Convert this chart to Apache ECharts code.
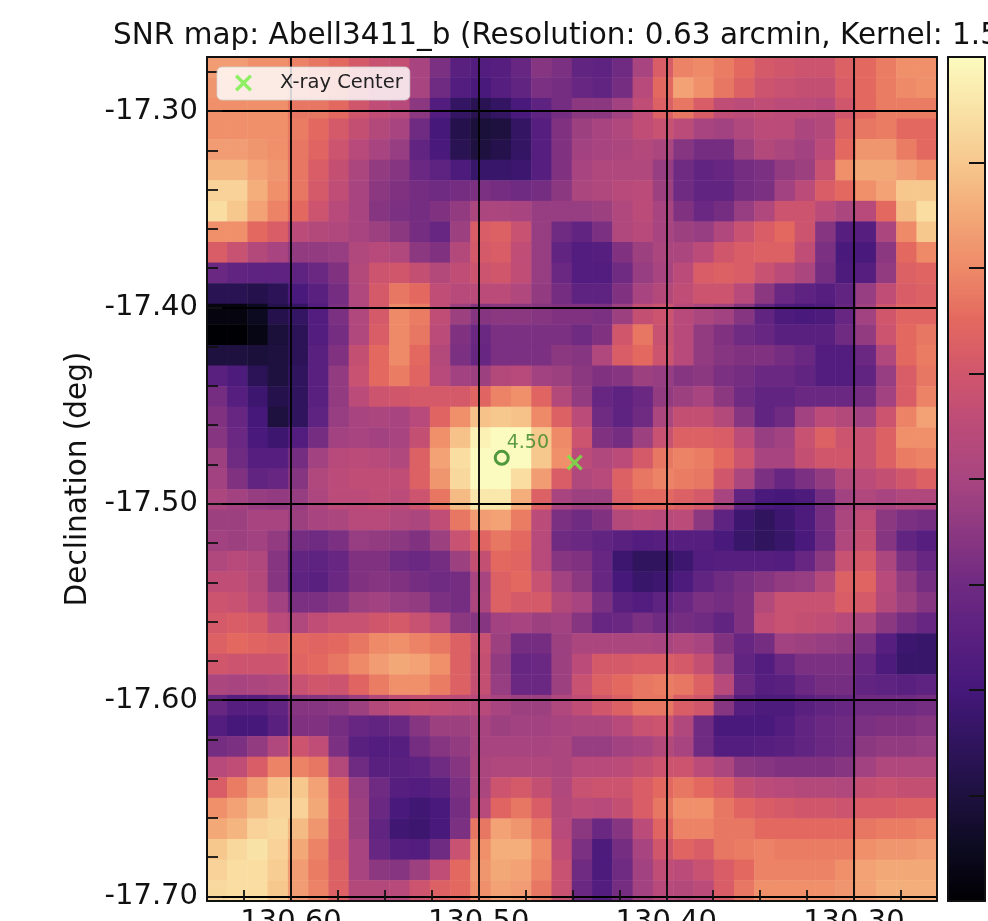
<!DOCTYPE html>
<html><head><meta charset="utf-8">
<style>html,body{margin:0;padding:0;background:#fff;overflow:hidden}#c{width:988px;height:921px}</style>
<script src="https://cdn.jsdelivr.net/npm/echarts@6/dist/echarts.min.js"></script>
</head><body><div id="c"></div>
<script>
const titleText = 'SNR map: Abell3411_b (Resolution: 0.63 arcmin, Kernel: 1.5 arcmin)';
const yName = 'Declination (deg)';
const legendName = 'X-ray Center';
const xRange = [130.2557, 130.6448];
const yRange = [-17.7023, -17.2725];
const xMajor = [130.3, 130.4, 130.5, 130.6];
const xMinor = [130.275, 130.325, 130.35, 130.375, 130.425, 130.45, 130.475, 130.525, 130.55, 130.575, 130.625];
const yMajor = [-17.7, -17.6, -17.5, -17.4, -17.3];
const yMinor = [-17.68, -17.66, -17.64, -17.62, -17.58, -17.56, -17.54, -17.52, -17.48, -17.46, -17.44, -17.42, -17.38, -17.36, -17.34, -17.32, -17.28];
const barTicks = [-3, -2, -1, 0, 1, 2, 3];
const colorStops = ['#000004','#0c0a20','#1e1140','#30145e','#45187a','#5a2080','#6f2a82','#8c3881','#a84580','#bb4b78','#d0566c','#e3685f','#ee8a68','#f3a878','#f7c88e','#f9e2a6','#fcfbbf'];
const xrayCenter = [130.4488, -17.4790];
const peak = [130.4877, -17.4766];
const peakLabel = '4.50';
// SNR per cell, top row first, left column first
const snr = [
[2.3,2.3,2.1,2.1,1.9,1.7,1.5,1.1,.8,.7,0,-.8,-1.5,-1.7,-1.6,-1.2,-.6,-.8,-1.3,-1.4,-1.0,0,1.2,1.9,2.0,1.8,1.5,1.1,1.0,.9,.9,1.3,1.5,1.8,2.1,2.1],
[2.2,2.2,2.1,2.1,1.8,1.7,1.5,1.1,.7,.6,0,-1.0,-1.7,-1.9,-1.6,-1.3,-.8,-.9,-1.2,-1.3,-.9,.4,1.5,2.4,2.1,1.7,1.3,.9,.8,.7,.7,1.2,1.5,1.8,2.0,2.1],
[2.1,2.1,2.1,2.1,1.7,1.7,1.5,1.0,.6,.4,-.5,-1.7,-2.4,-2.7,-2.4,-1.9,-1.4,-.9,-.5,-.5,-.1,.6,1.3,1.7,1.2,.6,.5,.6,.5,.5,.4,1.0,1.5,1.8,1.8,1.8],
[2.1,2.1,2.1,2.1,1.8,1.5,1.1,.7,.3,0,-1.0,-2.0,-2.8,-3.1,-3.0,-2.4,-1.6,-.7,-.2,0,.2,.6,.8,.5,0,-.1,.2,.5,.5,.1,.3,1.3,1.7,1.8,1.5,1.5],
[2.3,2.3,2.2,2.1,1.7,1.4,.9,.4,0,-.3,-1.3,-1.9,-2.7,-3.0,-2.8,-2.4,-1.6,-.7,-.1,0,.1,.3,.1,-.6,-.9,-.9,-.2,.3,.1,-.1,.5,1.5,2.2,2.2,1.8,1.5],
[2.7,2.7,2.4,2.2,1.7,1.2,.7,.1,-.4,-.6,-1.1,-1.4,-1.8,-2.3,-2.3,-2.2,-1.6,-.7,0,.2,.2,.2,-.3,-1.0,-1.3,-1.2,-.9,-.8,-.4,-.2,.8,2.1,2.5,2.5,2.3,2.1],
[3.2,3.2,2.6,2.1,1.7,1.1,.6,0,-.5,-.7,-.9,-1.0,-.9,-.8,-.9,-1.0,-.9,-.5,.1,.2,.4,.5,-.2,-1.0,-1.3,-1.3,-.9,-.8,-.1,.5,1.2,1.5,2.1,2.4,3.0,3.0],
[3.4,3.0,2.4,1.9,1.5,.9,.4,0,-.6,-.8,-.9,-.7,-.4,.1,.1,0,-.3,-.3,-.3,-.2,.2,.5,0,-.7,-1.1,-.9,-.3,.2,.9,.9,.5,.1,.4,1.5,2.8,3.4],
[2.1,2.1,1.5,1.2,.5,.3,.2,0,-.2,-.5,-.9,-1.2,-.2,1.2,1.3,.8,-.3,-1.0,-1.3,-.8,.2,.4,0,-.2,-.3,.2,.8,1.2,1.5,.9,-.6,-1.6,-1.6,.1,2.0,3.0],
[1.2,.8,.3,0,-.4,-.4,-.3,.2,.4,.2,-.5,-.7,.3,1.1,1.2,.6,-.3,-1.3,-1.7,-1.6,-.7,-.2,.1,.1,.5,1.0,1.2,1.3,1.3,.6,-.8,-1.9,-1.9,-.5,1.5,2.0],
[-1.1,-1.3,-1.4,-1.4,-1.4,-1.1,-.7,.3,.9,1.0,.7,.3,.6,.9,1.0,.6,-.3,-1.1,-1.7,-1.7,-1.0,-.3,0,.5,1.2,1.3,1.2,.8,.5,.1,-.9,-1.8,-1.6,-.4,1.3,1.4],
[-2.7,-2.7,-2.8,-2.6,-1.9,-1.5,-.9,.2,1.1,1.7,1.5,.6,.4,.5,.5,.2,-.4,-.9,-1.4,-1.4,-.7,0,.3,.6,.9,.9,.4,-.5,-1.1,-1.4,-1.6,-1.3,-.3,.6,1.2,1.3],
[-3.8,-3.8,-3.5,-2.8,-2.4,-1.7,-.8,.2,1.1,2.0,1.8,.6,-.2,-.6,-.5,-.5,-.6,-.7,-.7,-.8,-.2,.7,.9,.4,.1,-.1,-.6,-1.3,-1.8,-1.9,-1.8,-1.2,-.1,1.0,1.4,1.4],
[-4,-4,-3.7,-3.1,-2.6,-1.7,-.9,.2,1.2,2.0,1.7,.5,-.7,-1.1,-.8,-.8,-.8,-.8,-1.0,-.7,1.0,1.7,.8,.4,-.4,-.7,-1.0,-1.2,-1.5,-1.5,-1.5,-1.0,-.4,.9,1.5,1.7],
[-3.0,-3.0,-3.1,-3.0,-2.6,-1.5,-.7,.7,1.5,2.0,1.5,.3,-.8,-1.2,-.8,-.8,-.8,-.5,-.6,.2,1.2,1.5,.9,.4,-.4,-.6,-.7,-.7,-.9,-1.1,-1.7,-1.7,-1.1,.2,1.5,1.8],
[-1.5,-1.8,-2.6,-3.0,-2.5,-1.5,-.4,.8,1.5,1.8,1.4,.4,-.1,-.2,.3,.4,-.1,-.2,-.5,-.7,-.6,-.2,-.3,-.6,-.5,-.8,-.9,-1.1,-1.1,-1.3,-1.7,-1.7,-1.3,-.3,1.2,1.7],
[-.9,-1.6,-2.2,-2.8,-2.5,-1.5,-.4,.5,.9,1.0,1.1,1.1,1.1,1.4,1.9,2.1,1.4,.3,-.4,-1.2,-1.4,-1.1,-.4,-.2,0,-.5,-1.0,-1.3,-1.3,-1.1,-1.1,-1.1,-.9,-.1,1.2,1.9],
[-.7,-1.2,-2.0,-3.0,-2.5,-1.4,-.3,0,.1,0,.4,1.4,2.1,2.9,3.0,2.9,2.0,1.3,.5,-1.0,-1.4,-1.0,.1,.7,.7,.3,-.6,-1.3,-1.0,-.1,.5,.3,-.1,.9,1.9,2.4],
[-.6,-1.1,-1.9,-2.2,-1.7,-.9,-.1,0,-.1,0,.7,2.1,2.9,3.8,4,4,3,2.0,.9,-.7,-.9,-.2,.8,1.3,1.3,1.2,.5,-.3,-.1,.8,1.3,.9,.8,1.3,2.1,2.1],
[-.2,-1.0,-1.6,-1.6,-.9,-.1,.4,.5,.4,.2,1.3,2.4,3.4,4,4,4,3,2.1,.5,.2,.5,1.1,1.7,1.9,1.8,1.5,.9,0,0,.7,1.0,1.0,.8,1.3,1.8,1.9],
[-.1,-.7,-1.3,-1.2,-.6,.2,.5,.6,.6,.6,1.3,2.2,3.3,4,4,3.4,2.3,1.2,.2,.4,1.3,1.7,1.9,1.8,1.7,1.0,.1,-.8,-1.2,-.8,-.4,.3,.5,.7,1.0,1.3],
[.1,-.1,-.3,-.4,-.3,.1,.5,.5,.6,.5,.9,1.7,2.8,3.6,3.6,2.6,1.3,0,-.2,-.2,1.2,1.5,1.5,1.3,1.1,0,-1.3,-1.9,-2.0,-1.8,-.9,-.1,.2,0,.2,.2],
[-.2,-.2,0,0,-.2,0,.1,.4,.4,.2,.1,.6,1.7,2.3,2.4,1.8,.5,-.8,-1.0,-.7,.3,.5,.4,.5,-.5,-1.4,-2.2,-2.5,-2.2,-1.8,-.9,.1,.6,-.5,-.8,-.9],
[-.1,-.2,-.1,-.4,-.9,-1.0,-.8,-.3,-.4,-.5,-.7,-.2,.8,1.4,1.7,1.5,.4,-1.0,-1.1,-1.3,-1.5,-1.7,-1.6,-1.6,-1.6,-1.9,-2.3,-2.5,-2.3,-1.9,-1.0,.2,.7,-.6,-1.3,-1.6],
[.2,.4,.2,-.6,-1.3,-1.4,-1.2,-.7,-.7,-1.0,-1.1,-.9,-.2,.7,1.5,1.4,.4,-.6,-.7,-1.2,-2.2,-2.5,-2.5,-2.2,-1.7,-1.6,-1.6,-1.6,-1.7,-1.2,-.5,.8,1.1,.1,-.8,-1.2],
[.6,.6,.3,-.6,-1.4,-1.5,-1.1,-.7,-.6,-.7,-.9,-1.0,-.9,0,1.3,1.5,.8,-.1,-.5,-1.2,-2.0,-2.3,-2.2,-1.8,-1.3,-1.0,-.8,-.6,-.4,-.3,.3,1.3,1.4,.4,-.4,-.9],
[.9,.8,.5,-.1,-.8,-.8,-.6,-.2,-.1,-.3,-.4,-.8,-.9,.1,1.3,1.1,1.1,.3,0,-.8,-1.5,-1.7,-1.4,-1.1,-.8,-.9,-.7,.3,.8,.8,.8,1.2,1.1,.3,-.2,-.6],
[1.1,1.2,1.1,.5,.2,.6,.8,.8,1.0,1.1,.8,.4,-.5,-.6,-.1,0,-.2,-.1,-.6,-1.2,-1.1,-.8,-1.0,-.9,-1.0,-1.3,-.7,.6,.8,.7,.6,.4,.1,-.5,-.9,-1.2],
[1.3,1.5,1.4,1.3,1.5,1.4,1.5,1.7,2.0,2.1,1.9,1.7,1.3,.8,-.2,-.9,-.9,-.2,.1,.1,.1,.1,0,.2,0,-.7,-1.2,-.9,-.1,-.2,-.3,-.4,-.8,-1.6,-2.2,-2.3],
[1.0,.9,.9,.9,1.4,1.5,1.7,2.0,2.3,2.5,2.4,2.1,1.3,.7,-.4,-1.2,-1.1,-.2,.5,1.1,1.1,1.2,1.2,1.1,.7,-.3,-1.3,-1.7,-1.1,-.8,-.8,-.8,-1.2,-1.8,-2.3,-2.3],
[.1,0,.1,.2,.8,1.0,.9,1.4,1.8,2.1,2.1,1.8,1.3,.7,-.3,-1.1,-1.1,-.2,.8,1.3,1.5,1.7,1.8,1.7,1.3,.4,-1.1,-1.6,-1.5,-1.1,-.9,-.9,-1.3,-1.4,-1.5,-1.4],
[-1.2,-1.6,-1.6,-1.3,-.6,-.6,-.5,-.2,.3,.6,.7,.6,.5,.4,0,-.2,-.2,.2,.6,1.0,1.3,1.7,1.7,1.2,1.0,-.6,-1.6,-1.8,-1.8,-1.5,-1.3,-1.2,-1.0,-1.0,-1.0,-.9],
[-1.7,-2.0,-2.0,-1.5,-.7,-.7,-.9,-1.2,-1.3,-1.1,-.6,-.2,-.2,0,-.2,-.1,-.1,0,.1,.1,.4,.8,.9,.2,-1.0,-1.9,-1.9,-1.9,-1.7,-1.3,-1.1,-1.0,-.8,-.7,-.7,-.6],
[-.9,-.8,-.4,.2,.9,.6,-.8,-1.5,-1.7,-1.6,-.9,-.6,-.4,0,0,0,0,.1,-.3,-.3,-.1,0,.3,0,-1.0,-1.7,-1.7,-1.6,-1.5,-1.3,-1.1,-1.0,-.5,-.4,-.4,-.3],
[.4,.6,1.2,1.9,1.9,1.7,.3,-1.0,-1.5,-1.5,-1.4,-1.0,-.6,.1,.2,.2,.2,.1,.4,.4,.5,.7,.9,.9,.5,.1,-.5,-.6,-.7,-.7,-.7,-.6,-.1,.2,.2,.2],
[1.2,1.8,2.3,2.9,3.0,2.4,1.3,-.3,-1.0,-1.6,-1.7,-1.5,-.8,.1,.9,1.1,.7,.2,.8,.9,.9,1.2,1.5,1.7,1.5,1.2,.7,.5,.4,.3,.3,.2,.7,.8,.7,.7],
[2.1,2.4,2.8,3.2,3.2,2.5,1.4,-.2,-1.1,-1.9,-2.1,-1.9,-.9,.4,1.4,1.7,1.2,.3,.5,.4,.7,1.2,1.7,2.1,2.1,1.7,1.4,1.2,1.1,1.0,1.0,.9,1.2,1.2,1.3,1.3],
[2.5,2.7,3.2,3.3,2.8,2.2,1.3,-.2,-1.3,-2.1,-2.2,-1.9,-.8,1.7,2.4,2.2,1.7,.4,-.5,-1.1,-.6,.5,1.4,1.9,1.9,1.7,1.7,1.5,1.5,1.5,1.5,1.5,1.7,1.8,1.8,1.9],
[3.0,3.3,3.5,3.2,2.5,1.9,1.2,0,-1.2,-1.6,-1.7,-1.0,.8,2.1,2.6,2.6,2.0,.6,-.8,-1.8,-.9,0,1.0,1.4,1.2,1.7,1.8,1.9,1.8,1.8,1.8,1.8,2.1,2.2,2.2,2.3],
[3.2,3.4,3.4,3.1,2.3,1.8,1.3,0,-.5,-.6,-.2,.6,1.5,2.2,2.5,2.4,1.9,.8,-1.0,-1.8,-1.0,-.1,.6,.5,.8,1.2,1.5,1.9,1.9,1.9,1.9,2.1,2.4,2.5,2.5,2.5],
[3.3,3.4,3.4,3.0,2.3,1.9,1.3,.3,.3,.4,.9,1.3,1.5,2.1,2.4,2.3,1.7,.8,-1.1,-1.7,-.9,-.1,.4,.3,.5,1.2,1.7,2.1,2.1,2.1,2.1,2.2,2.4,2.6,2.6,2.6]
];

const FONT = '"DejaVu Sans"';
const INK = '#111';
const XMARK = 'path://M1.4 0L5 3.6L8.6 0L10 1.4L6.4 5L10 8.6L8.6 10L5 6.4L1.4 10L0 8.6L3.6 5L0 1.4Z';
const cols = snr[0].map((_, i) => i);
const rows = snr.map((_, j) => j);
const cells = [];
snr.forEach((r, j) => r.forEach((v, i) => cells.push([i, j, v])));
const plot = {left: 207, top: 57, width: 730, height: 844, outerBoundsMode: 'none'};
const bar = {left: 948, top: 57, width: 37, height: 844, outerBoundsMode: 'none'};
const frameLine = {show: true, onZero: false, lineStyle: {color: INK, width: 2}};
const noLine = {show: false};
const off = {show: false};
const gridLine = {show: true, lineStyle: {color: '#000', width: 1.8}};
const xCommon = {type: 'value', gridIndex: 1, inverse: true, min: xRange[0], max: xRange[1], z: 5};
const yCommon = {type: 'value', gridIndex: 1, min: yRange[0], max: yRange[1], z: 5};
const labelStyle = {show: true, fontFamily: FONT, fontSize: 29, color: INK, formatter: v => v.toFixed(2), hideOverlap: false};

const chart = echarts.init(document.getElementById('c'), null, {renderer: 'canvas'});
chart.setOption({
  animation: false,
  backgroundColor: '#fff',
  title: {text: titleText, left: 113, top: 21, padding: 0,
    textStyle: {fontFamily: FONT, fontWeight: 'normal', fontSize: 29.5, color: INK}},
  grid: [plot, plot, bar],
  xAxis: [
    {type: 'category', gridIndex: 0, data: cols, show: false},
    Object.assign({}, xCommon, {position: 'bottom', axisLine: frameLine,
      axisTick: {show: true, inside: true, length: 15, customValues: xMajor, lineStyle: {color: INK, width: 2}},
      splitLine: gridLine,
      axisLabel: Object.assign({}, labelStyle, {margin: 7, customValues: xMajor})}),
    Object.assign({}, xCommon, {position: 'bottom', axisLine: noLine,
      axisTick: {show: true, inside: true, length: 11, customValues: xMinor, lineStyle: {color: INK, width: 1.8}},
      axisLabel: off, splitLine: off}),
    Object.assign({}, xCommon, {position: 'top', axisLine: frameLine, axisTick: off, axisLabel: off, splitLine: off}),
    {type: 'value', gridIndex: 2, min: 0, max: 1, position: 'bottom', z: 10, axisLine: frameLine, axisTick: off, axisLabel: off, splitLine: off},
    {type: 'value', gridIndex: 2, min: 0, max: 1, position: 'top', z: 10, axisLine: frameLine, axisTick: off, axisLabel: off, splitLine: off}
  ],
  yAxis: [
    {type: 'category', gridIndex: 0, data: rows, inverse: true, show: false},
    Object.assign({}, yCommon, {position: 'left',
      name: yName, nameLocation: 'middle', nameGap: 108, nameRotate: 90,
      nameTextStyle: {fontFamily: FONT, fontSize: 29.5, color: INK},
      axisLine: frameLine,
      axisTick: {show: true, inside: true, length: 15, customValues: yMajor, lineStyle: {color: INK, width: 2}},
      splitLine: gridLine,
      axisLabel: Object.assign({}, labelStyle, {margin: 9, customValues: yMajor, padding: [13, 0, 0, 0]})}),
    Object.assign({}, yCommon, {position: 'left', axisLine: noLine,
      axisTick: {show: true, inside: true, length: 11, customValues: yMinor, lineStyle: {color: INK, width: 1.8}},
      axisLabel: off, splitLine: off}),
    Object.assign({}, yCommon, {position: 'right', axisLine: frameLine, axisTick: off, axisLabel: off, splitLine: off}),
    {type: 'value', gridIndex: 2, min: -4, max: 4, position: 'right', z: 10,
      axisLine: frameLine,
      axisTick: {show: true, inside: true, length: 16, customValues: barTicks, lineStyle: {color: INK, width: 2}},
      axisLabel: off, splitLine: off},
    {type: 'value', gridIndex: 2, min: -4, max: 4, position: 'left', z: 10, axisLine: frameLine, axisTick: off, axisLabel: off, splitLine: off}
  ],
  visualMap: {
    type: 'continuous', min: -4, max: 4, seriesIndex: 0,
    left: bar.left, top: bar.top, itemWidth: bar.width, itemHeight: bar.height,
    padding: 0, calculable: false, hoverLink: false, realtime: false, z: 1,
    text: null, textStyle: {fontSize: 0},
    inRange: {color: colorStops}
  },
  legend: {
    left: 217, top: 67, orient: 'horizontal', padding: [6, 7, 7, 18],
    backgroundColor: 'rgba(255,255,255,0.82)', borderColor: 'rgba(210,210,210,0.8)', borderWidth: 1, borderRadius: 5,
    itemWidth: 17, itemHeight: 17, z: 20,
    selectedMode: false,
    data: [{name: legendName, icon: XMARK}],
    textStyle: {fontFamily: FONT, fontSize: 19.5, color: '#222', padding: [0, 0, 0, 23]}
  },
  series: [
    {type: 'heatmap', xAxisIndex: 0, yAxisIndex: 0, data: cells, z: 2, emphasis: {disabled: true}, progressive: 0},
    {type: 'scatter', name: legendName, xAxisIndex: 1, yAxisIndex: 1, z: 8, data: [xrayCenter],
      symbol: XMARK, symbolSize: 16,
      itemStyle: {color: '#70f040'}},
    {type: 'scatter', name: 'peak', xAxisIndex: 1, yAxisIndex: 1, z: 8, data: [peak],
      symbol: 'circle', symbolSize: 13,
      itemStyle: {color: 'rgba(0,0,0,0)', borderColor: '#23801a', borderWidth: 3},
      label: {show: true, formatter: peakLabel, position: 'right', offset: [-8, -15], fontFamily: FONT, fontSize: 19, color: '#348426'}}
  ]
});
</script></body></html>
